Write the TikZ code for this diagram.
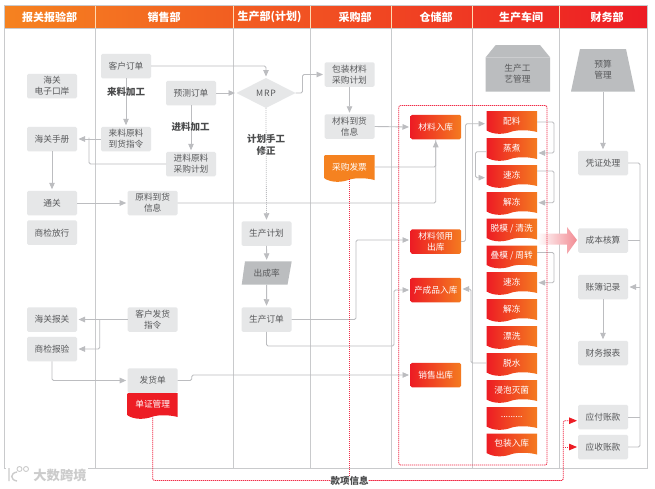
\documentclass[tikz,border=0pt]{standalone}
\usepackage{fontspec}
\setmainfont{Noto Sans CJK SC}
\usetikzlibrary{arrows.meta,shapes.geometric}
\definecolor{lineg}{HTML}{BCBDC0}
\definecolor{frameg}{HTML}{C9CACC}
\definecolor{boxg}{HTML}{E6E7E8}
\definecolor{darkg}{HTML}{BBBDBF}
\definecolor{txtg}{HTML}{58595B}
\definecolor{redA}{HTML}{ED1C24}
\definecolor{orgA}{HTML}{F58220}
\definecolor{orgB}{HTML}{F47B20}
\definecolor{dashr}{HTML}{F02C48}
\definecolor{pinkA}{HTML}{F28B93}
\tikzset{
 base/.style={inner sep=0pt,outer sep=0pt,align=center,font=\fontsize{8.7}{11.3}\selectfont},
 gbox/.style={base,fill=boxg,text=txtg,rounded corners=1.5pt,minimum width=50pt,minimum height=24.5pt},
 rbox/.style={base,left color=redA,right color=orgB,text=white,rounded corners=1.5pt,minimum width=50.5pt,minimum height=24.5pt},
 plain/.style={base,text=txtg},
 boldlab/.style={inner sep=0pt,align=center,text=txtg!85!black,font=\bfseries\fontsize{9.5}{11.3}\selectfont},
 hd/.style={inner sep=0pt,text=white,font=\bfseries\fontsize{11}{13}\selectfont},
 conn/.style={draw=lineg,line width=0.9pt,rounded corners=1.5pt},
 arr/.style={conn,-{Triangle[length=6.5pt,width=5.5pt]},shorten >=1.5pt},
 dotg/.style={draw=lineg,line width=0.8pt,dash pattern=on 1pt off 1pt,-{Triangle[length=6.5pt,width=5.5pt]},shorten >=1.5pt},
 redl/.style={draw=dashr,line width=0.8pt,dash pattern=on 1.3pt off 0.7pt,rounded corners=1.5pt},
 redarr/.style={redl,-{Triangle[length=8pt,width=6.5pt,color=redA,fill=redA]},shorten >=1pt},
}
\newcommand{\wavebox}[8]{%
 \shade[left color=#6,right color=#7]
  (#2,#3) -- ({#2+#4},#3) -- ({#2+#4},{#3+#5-2})
  .. controls ({#2+0.85*#4},{#3+#5-4}) and ({#2+0.65*#4},{#3+#5-4.5}) .. ({#2+0.5*#4},{#3+#5-2.5})
  .. controls ({#2+0.35*#4},{#3+#5+0.5}) and ({#2+0.15*#4},{#3+#5+1}) .. (#2,{#3+#5-3.5}) -- cycle;
 \node[base,text=white,minimum width=#4 pt,minimum height={(#5-3)*1pt}] (#1) at ({#2+#4/2},{#3+(#5-3)/2}) {#8};
}
\begin{document}
\begin{tikzpicture}[x=1pt,y=-1pt]
\useasboundingbox (0,0) rectangle (655,488);
\fill[white] (0,0) rectangle (655,488);
% header and frame
\shade[left color=orgA,right color=redA] (5,5.5) rectangle (647,28);
\foreach \cx in {95,233,310.5,391,472.5,559.5}{
 \draw[white!70!orange,line width=0.8pt] (\cx,5.5) -- (\cx,28);
 \draw[frameg,line width=1pt] (\cx,28) -- (\cx,468.5);
}
\draw[frameg,line width=1pt] (4.5,28) -- (647,28);
\draw[frameg,line width=1pt] (4.5,5) rectangle (647,468.5);
\node[hd] (h1) at (49.5,17) {报关报验部};
\node[hd] (h2) at (164,17) {销售部};
\node[hd] (h3) at (269.5,17) {生产部(计划)};
\node[hd] (h4) at (355,17) {采购部};
\node[hd] (h5) at (436,17) {仓储部};
\node[hd] (h6) at (521,17) {生产车间};
\node[hd] (h7) at (607,17) {财务部};
% watermark
\fill[white] (6,466) rectangle (88,483);
\node[inner sep=0pt,text=black!20,font=\bfseries\fontsize{13.3}{14}\selectfont] (wm) at (60,475) {大数跨境};
\draw[black!20,line width=1.4pt] (9,468) -- (9,481) (17,472) .. controls (10,473) and (10,480) .. (17,481);
\draw[black!20,line width=0.9pt] (19.5,469) circle (2.5) (26,469) circle (2.5);
% big arrow
\shade[left color=white,right color=pinkA] (537,233.5) -- (567,233.5) -- (567,227) -- (577,240) -- (567,254) -- (567,244.5) -- (537,244.5) -- cycle;
% customs
\node[gbox] (a1) at (52,86) {海关\\电子口岸};
\node[gbox] (a2) at (52,139) {海关手册};
\node[gbox] (a3) at (52,203) {通关};
\node[gbox] (a4) at (52,232.7) {商检放行};
\node[gbox] (a5) at (52,319.5) {海关报关};
\node[gbox] (a6) at (52,349) {商检报验};
% sales
\node[gbox] (b1) at (126,66) {客户订单};
\node[gbox] (b2) at (126,139) {来料原料\\到货指令};
\node[gbox] (b3) at (191,93) {预测订单};
\node[gbox] (b4) at (191,164) {进料原料\\采购计划};
\node[gbox] (b5) at (152.7,203) {原料到货\\信息};
\node[gbox] (b6) at (152.7,319.5) {客户发货\\指令};
\wavebox{dz}{127.7}{393}{50}{26}{redA}{redA}{单证管理}
\node[gbox] (b7) at (152.7,380.5) {发货单};
% production plan
\node[base,diamond,aspect=2,fill=boxg,text=txtg,minimum width=59pt,minimum height=30pt] (mrp) at (266,93) {M\kern0.8pt R\kern0.8pt P};
\node[gbox] (c1) at (266.5,233.5) {生产计划};
\fill[darkg] (245,261.3) -- (291.7,261.3) -- (287.5,284.7) -- (241.7,284.7) -- cycle;
\node[plain,minimum width=46pt,minimum height=23.4pt] (c2) at (266.7,273) {出成率};
\node[gbox] (c3) at (266.5,319.5) {生产订单};
% purchase
\node[gbox] (d1) at (349.5,74.5) {包装材料\\采购计划};
\node[gbox] (d2) at (349.5,126.5) {材料到货\\信息};
\wavebox{d3}{324.5}{155}{50}{27}{orgA}{orgA}{采购发票}
% warehouse
\node[rbox] (e1) at (435.75,127) {材料入库};
\node[rbox] (e2) at (435.75,241.5) {材料领用\\出库};
\node[rbox] (e3) at (435.75,290) {产成品入库};
\node[rbox] (e4) at (435.75,375) {销售出库};
% workshop
\fill[darkg] (485.7,91.7) -- (485.7,57.3) -- (495.7,45) -- (540,45) -- (550,57.3) -- (550,91.7) -- cycle;
\draw[white,opacity=0.25,line width=0.5pt] (485.7,57.3) -- (550,57.3);
\node[plain] (f0) at (517.5,74) {生产工\\艺管理};
\wavebox{f1}{486.5}{111}{50.5}{23}{redA}{orgB}{配料}
\wavebox{f2}{486.5}{138}{50.5}{23}{redA}{orgB}{蒸煮}
\wavebox{f3}{486.5}{165}{50.5}{23}{redA}{orgB}{速冻}
\wavebox{f4}{486.5}{192}{50.5}{23}{redA}{orgB}{解冻}
\wavebox{f5}{486.5}{218.5}{50.5}{23}{redA}{orgB}{脱模 / 清洗}
\wavebox{f6}{486.5}{245.5}{50.5}{23}{redA}{orgB}{叠模 / 周转}
\wavebox{f7}{486.5}{272}{50.5}{23}{redA}{orgB}{速冻}
\wavebox{f8}{486.5}{299}{50.5}{23}{redA}{orgB}{解冻}
\wavebox{f9}{486.5}{326}{50.5}{23}{redA}{orgB}{漂洗}
\wavebox{f10}{486.5}{353}{50.5}{23}{redA}{orgB}{脱水}
\wavebox{f11}{486.5}{380}{50.5}{23}{redA}{orgB}{浸泡灭菌}
\wavebox{f12}{486.5}{407}{50.5}{23}{redA}{orgB}{.........}
\wavebox{f13}{486.5}{433.5}{50.5}{23}{redA}{orgB}{包装入库}
% finance
\fill[darkg] (580,49) -- (626,49) -- (635,91.5) -- (571,91.5) -- cycle;
\node[plain] (g0) at (603,70) {预算\\管理};
\node[gbox] (g1) at (603,163) {凭证处理};
\node[gbox] (g2) at (603,240.5) {成本核算};
\node[gbox] (g3) at (603,287) {账簿记录};
\node[gbox] (g4) at (603,353) {财务报表};
\node[gbox] (g5) at (603,417) {应付账款};
\node[gbox] (g6) at (603,447) {应收账款};
% label on the dashed line
\node[boldlab] (k0) at (349.5,480.5) {款项信息};
% grey connectors
\draw[arr] (b1.east) -| (mrp.north);
\draw[arr] (b1.south) -- (b2.north);
\draw[arr] (b3.east) -- (mrp.west);
\draw[arr] (mrp.east) -- ++(7,0) |- (d1.west);
\draw[arr] (b3.south) -- (b4.north);
\draw[dotg] (mrp.south) -- (c1.north);
\draw[arr] (b2.west) -- (a2.east);
\draw[conn] (b4.west) -- ++(-77,0) |- ([xshift=12pt]a2.east);
\draw[arr] (a2.south) -- (a3.north);
\draw[arr] (a3.east) -- (b5.west);
\draw[arr] (b5.east) -| (e1.south);
\draw[arr] (c1.south) -- (c2.north);
\draw[arr] (c2.south) -- (c3.north);
\draw[arr] (c3.east) -- ++(64.5,0) |- ([yshift=1.5pt]e2.west);
\draw[arr] (c3.south) -- ++(0,14.25) -- ++(127.5,0) |- (e3.west);
\draw[arr] (b7.east) -- ++(14,0) |- (e4.west);
\draw[arr] (a6.south) |- (b7.west);
\draw[arr] (b6.west) -- (a5.east);
\draw[arr] ([xshift=-28pt]b6.west) |- (a6.east);
\draw[arr] (d1.south) -- (d2.north);
\draw[arr] (d2.east) -- (e1.west);
\draw[conn] (d3.east) -| (e1.south);
\draw[arr] (e2.east) -- ++(4.5,0) |- ([yshift=-2.7pt]f1.west);
\draw[arr] ([yshift=-1pt]f1.east) -- ++(17,0) |- ([yshift=-5pt]f2.east);
\draw[arr] ([yshift=-3.7pt]f2.west) -- ++(-11,0) |- ([yshift=-2.7pt]f3.west);
\draw[arr] ([yshift=4pt]f3.east) -- ++(17,0) |- ([yshift=-0.7pt]f4.east);
\draw[arr] ([yshift=3pt]f6.east) -- ++(17,0) |- ([yshift=-0.7pt]f7.east);
\draw[arr] (f10.west) -- ++(-15.5,0) |- ([yshift=1pt]e3.east);
\draw[arr] (603,91.5) -- (g1.north);
\draw[conn] (g1.east) -- ++(12,0) |- (g6.east);
\draw[conn] (g2.east) -- ++(12,0);
\draw[conn] (g5.east) -- ++(12,0);
\draw[arr] ([xshift=12pt]g3.east) -- (g3.east);
\draw[arr] (g3.south) -- (g4.north);
% red box and dashed connectors
\draw[redl,rounded corners=2pt] (398.7,105.5) rectangle (547,465);
\draw[redl] (dz.south) |- (k0.west);
\draw[redl] (d3.south) -- (k0.north);
\draw[redarr] (k0.east) -- ++(194.5,0) |- ([yshift=-3.7pt]g5.west);
\draw[redarr] ([xshift=-15pt]g6.west) -- (g6.west);
% bold labels
\node[boldlab] (l1) at (126,92) {来料加工};
\node[boldlab] (l2) at (190.5,127) {进料加工};
\node[boldlab] (l3) at (266,145) {计划手工\\修正};
\end{tikzpicture}
\end{document}
